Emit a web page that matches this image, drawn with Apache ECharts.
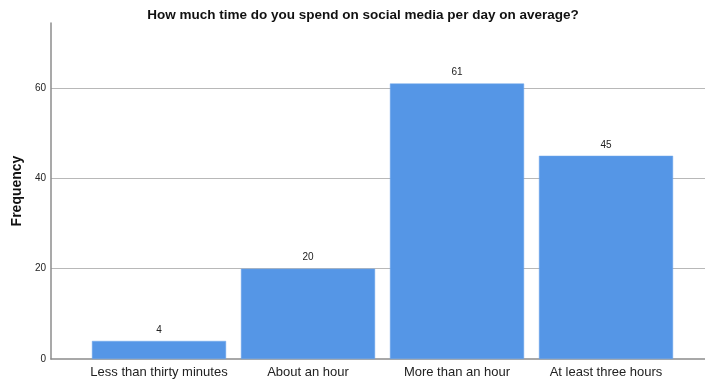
<!DOCTYPE html>
<html>
<head>
<meta charset="utf-8">
<script src="https://cdn.jsdelivr.net/npm/echarts@6/dist/echarts.min.js"></script>
<style>
  html, body { margin: 0; padding: 0; background: #fff; }
  #main { width: 705px; height: 385px; }
</style>
</head>
<body>
<div id="main"></div>
<script>
const categories = ['Less than thirty minutes', 'About an hour', 'More than an hour', 'At least three hours']
const frequency = [4, 20, 61, 45]
const yMax = 74.4

let myChart = echarts.init(document.getElementById('main'))
const font = 'Liberation Sans, Arial, sans-serif'
const gridTop = 23, gridBottom = 26

let option = {
    backgroundColor: '#fff',
    animation: false,
    title: {
        text: 'How much time do you spend on social media per day on average?',
        left: 358,
        textAlign: 'center',
        top: 3,
        textStyle: { fontFamily: font, fontSize: 13.5, fontWeight: 'bold', color: '#111' }
    },
    grid: [
        // background grid: y axis + gridlines
        { left: 51, right: 0, top: gridTop, bottom: gridBottom },
        // bars sit inside this one
        { left: 84.5, right: 24.5, top: gridTop, bottom: gridBottom }
    ],
    xAxis: [
        {
            gridIndex: 0, type: 'value', min: 0, max: 1, show: true,
            axisLine: { show: true, onZero: false, lineStyle: { color: '#8c8c8c', width: 1.5 } },
            axisTick: { show: false }, axisLabel: { show: false }, splitLine: { show: false }
        },
        {
            gridIndex: 1, type: 'category', data: categories,
            axisLine: { show: false }, axisTick: { show: false },
            axisLabel: { interval: 0, fontFamily: font, fontSize: 13, color: '#222', margin: 7 }
        }
    ],
    yAxis: [
        {
            gridIndex: 0, type: 'value', min: 0, max: yMax, interval: 20,
            name: 'Frequency', nameLocation: 'middle', nameGap: 26,
            nameTextStyle: { fontFamily: font, fontSize: 14, fontWeight: 'bold', color: '#111' },
            axisLine: { show: true, lineStyle: { color: '#8c8c8c', width: 1.5 } },
            axisTick: { show: false },
            axisLabel: { fontFamily: font, fontSize: 10, color: '#222', margin: 5, showMaxLabel: false },
            splitLine: { show: true, showMinLine: false, showMaxLine: false, lineStyle: { color: '#b8b8b8', width: 1 } }
        },
        {
            gridIndex: 1, type: 'value', min: 0, max: yMax, show: false, splitLine: { show: false }
        }
    ],
    series: [
        {
            type: 'bar',
            xAxisIndex: 1,
            yAxisIndex: 1,
            data: frequency,
            barCategoryGap: '10%',
            itemStyle: { color: '#5596e6', borderColor: '#6fa6ea', borderWidth: 0.5 },
            label: {
                show: true, position: 'top', distance: 6,
                fontFamily: font, fontSize: 10, color: '#222'
            }
        }
    ]
}

myChart.setOption(option)
</script>
</body>
</html>
